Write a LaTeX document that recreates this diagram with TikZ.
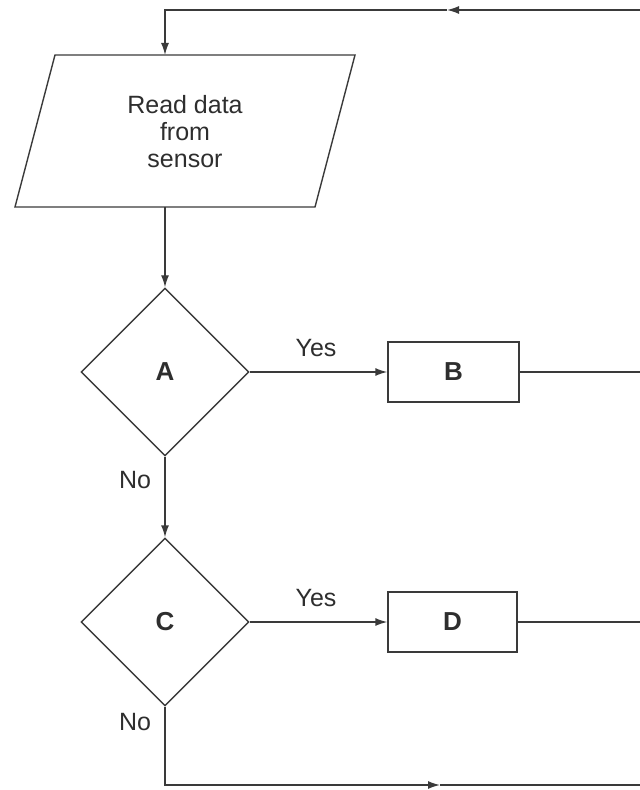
\documentclass[tikz,border=0pt]{standalone}
\usepackage{fontspec}
\setmainfont{Liberation Sans}
\usetikzlibrary{shapes.geometric,arrows.meta}
\definecolor{ln}{HTML}{3A3A3A}
\definecolor{tx}{HTML}{2E2E2E}
\tikzset{
  flow/.style={draw=ln, line width=0.7pt},
  arr/.style={flow, -{Latex[length=6pt,width=4pt]}},
  decide/.style={diamond, draw=ln, line width=0.7pt, minimum width=84pt, minimum height=84pt, inner sep=0pt, aspect=1, text=tx, font=\fontsize{13}{15}\selectfont\bfseries},
  proc/.style={rectangle, draw=ln, line width=0.7pt, minimum height=30pt, inner sep=0pt, text=tx, font=\fontsize{13}{15}\selectfont\bfseries},
  lbl/.style={text=tx, font=\fontsize{12.5}{14}\selectfont, inner sep=0pt},
}
\begin{document}
\begin{tikzpicture}[x=0.5pt,y=-0.5pt]
\useasboundingbox (0,0) rectangle (640,790);
% input parallelogram
\draw[flow] (15,207) -- (55,55) -- (355,55) -- (315,207) -- cycle;
\node[lbl, align=center, font=\fontsize{12.5}{13.5}\selectfont] (read) at (185,132) {Read data\\from\\sensor};
\coordinate (readtop) at (165,55);
\coordinate (readbot) at (165,207);
% decisions and processes
\node[decide] (A) at (165,372) {A};
\node[proc, minimum width=65.5pt] (B) at (453.5,372) {B};
\node[decide] (C) at (165,622) {C};
\node[proc, minimum width=64.5pt] (D) at (452.5,622) {D};
% labels
\node[lbl] (y1) at (316,348) {Yes};
\node[lbl] (y2) at (316,598) {Yes};
\node[lbl] (n1) at (135,480) {No};
\node[lbl] (n2) at (135,722) {No};
% coordinates for loop
\coordinate (topR) at (640,10);
\coordinate (topM) at (447,10);
\coordinate (topL) at (165,10);
\coordinate (bR) at (640,372);
\coordinate (dR) at (640,622);
\coordinate (botL) at (165,785);
\coordinate (botM) at (440,785);
\coordinate (botR) at (640,785);
% connectors
\draw[arr] (topR) -- (topM);
\draw[arr] (topM) -- (topL) -- (readtop);
\draw[arr] (readbot) -- (A.north);
\draw[arr] (A.east) -- (B.west);
\draw[flow] (B.east) -- (bR);
\draw[arr] (A.south) -- (C.north);
\draw[arr] (C.east) -- (D.west);
\draw[flow] (D.east) -- (dR);
\draw[arr] (C.south) -- (botL) -- (botM);
\draw[flow] (botM) -- (botR);
\end{tikzpicture}
\end{document}
